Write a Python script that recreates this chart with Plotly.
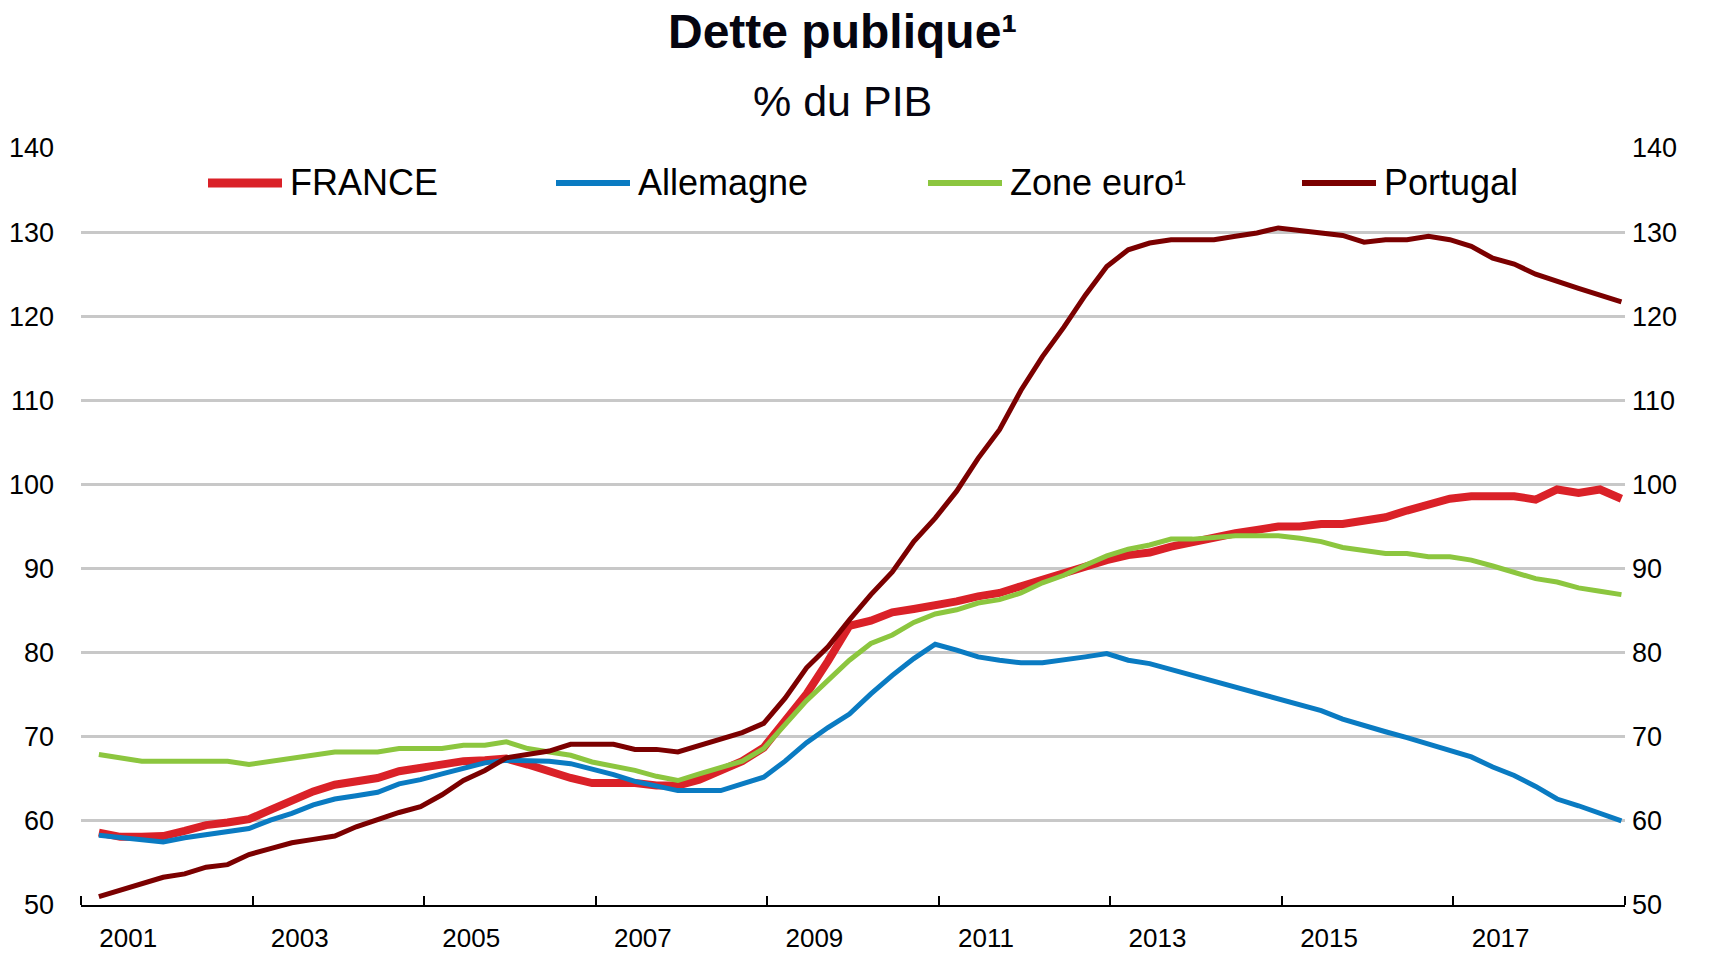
import plotly.graph_objects as go

# quarterly data, 2001T1 - 2018T4, % of GDP
quarters = [f"{y}T{q}" for y in range(2001, 2019) for q in range(1, 5)]

france = [58.6, 58.1, 58.1, 58.2, 58.8, 59.5, 59.8, 60.2, 61.3, 62.4, 63.5, 64.3,
          64.7, 65.1, 65.9, 66.3, 66.7, 67.1, 67.2, 67.4, 66.7, 65.8, 65.1, 64.5,
          64.5, 64.5, 64.2, 64.2, 64.9, 66.0, 67.1, 68.7, 71.9, 75.1, 79.0, 83.2,
          83.8, 84.8, 85.2, 85.6, 86.1, 86.7, 87.1, 87.9, 88.7, 89.4, 90.2, 91.0,
          91.6, 91.9, 92.6, 93.2, 93.7, 94.2, 94.6, 95.0, 95.0, 95.3, 95.3, 95.6,
          96.1, 96.9, 97.6, 98.3, 98.6, 98.6, 98.6, 98.2, 99.4, 99.0, 99.4, 98.3]

allemagne = [58.3, 58.0, 57.8, 57.5, 58.0, 58.4, 58.8, 59.1, 60.1, 60.9, 61.9, 62.6,
             63.0, 63.4, 64.4, 64.9, 65.6, 66.3, 66.9, 67.2, 67.2, 67.1, 66.8, 66.2,
             65.5, 64.7, 64.1, 63.6, 63.6, 63.6, 64.4, 65.2, 67.1, 69.3, 71.1, 72.7,
             75.1, 77.3, 79.3, 81.0, 80.3, 79.5, 79.1, 78.8, 78.8, 79.1, 79.5, 79.9,
             79.1, 78.7, 78.0, 77.3, 76.7, 76.0, 75.2, 74.5, 73.8, 73.1, 72.1, 71.3,
             70.6, 69.9, 69.1, 68.4, 67.6, 66.4, 65.4, 64.1, 62.6, 61.8, 60.9, 60.0]

zone_euro = [67.9, 67.5, 67.1, 67.1, 67.1, 67.1, 67.1, 66.7, 67.1, 67.5, 67.9, 68.2,
             68.2, 68.2, 68.6, 68.6, 68.6, 69.0, 69.0, 69.4, 68.6, 68.2, 67.8, 67.0,
             66.5, 66.0, 65.3, 64.8, 65.6, 66.3, 67.1, 68.6, 71.5, 74.3, 76.7, 79.1,
             81.1, 82.1, 83.6, 84.6, 85.1, 85.9, 86.3, 87.1, 88.3, 89.2, 90.4, 91.5,
             92.3, 92.8, 93.5, 93.5, 93.7, 93.9, 93.9, 93.9, 93.6, 93.2, 92.5, 92.1,
             91.8, 91.8, 91.4, 91.4, 91.0, 90.3, 89.6, 88.8, 88.4, 87.7, 87.3, 86.9]

portugal = [51.0, 51.8, 52.6, 53.3, 53.7, 54.5, 54.8, 56.0, 56.7, 57.4, 57.8, 58.2,
            59.3, 60.2, 61.0, 61.7, 63.1, 64.8, 66.0, 67.5, 67.9, 68.3, 69.1, 69.1,
            69.1, 68.5, 68.5, 68.2, 69.0, 69.8, 70.5, 71.6, 74.6, 78.2, 80.7, 83.9,
            86.9, 89.6, 93.2, 96.0, 99.2, 103.1, 106.5, 111.2, 115.2, 118.7, 122.5, 125.9,
            127.9, 128.7, 129.1, 129.1, 129.1, 129.5, 129.9, 130.5, 130.2, 129.9, 129.6, 128.8,
            129.1, 129.1, 129.5, 129.1, 128.3, 126.9, 126.2, 125.0, 124.1, 123.3, 122.5, 121.7]

names = ["FRANCE", "Allemagne", "Zone euro¹", "Portugal"]
colors = ["#DA2128", "#0A7BC2", "#8CC63F", "#7B0000"]
widths = [8, 5, 5, 5]

year_labels = [str(y) for y in range(2001, 2019, 2)]

# quarter -> position on a year scale (points sit in the last month of the quarter)
x = [int(s[:4]) + (3 * int(s[-1]) - 0.5) / 12 for s in quarters]

sans = "Liberation Sans, Arial, sans-serif"
L, R, T, B = 81, 1625, 148, 905

fig = go.Figure()
for name, vals, col, w in zip(names, [france, allemagne, zone_euro, portugal], colors, widths):
    fig.add_trace(go.Scatter(x=x, y=vals, mode="lines", name=name,
                             line=dict(color=col, width=w), showlegend=False))
# invisible trace so the right axis gets drawn
fig.add_trace(go.Scatter(x=x, y=france, yaxis="y2", mode="lines", opacity=0,
                         showlegend=False, hoverinfo="skip"))

# legend drawn by hand, line samples are longer than plotly's
leg_line_x = [208, 556, 928, 1302]
leg_y = (B - 183) / (B - T)
for i, name in enumerate(names):
    x0 = (leg_line_x[i] - L) / (R - L)
    x1 = (leg_line_x[i] + 74 - L) / (R - L)
    fig.add_shape(type="line", xref="paper", yref="paper", x0=x0, x1=x1,
                  y0=leg_y, y1=leg_y, line=dict(color=colors[i], width=widths[i] + 1))
    fig.add_annotation(xref="paper", yref="paper", x=(leg_line_x[i] + 80 - L) / (R - L),
                       y=leg_y, text=name, showarrow=False, xanchor="left", yanchor="middle",
                       font=dict(family=sans, size=36, color="black"))

fig.add_annotation(xref="paper", yref="paper", x=(842 - L) / (R - L), y=(B - 31) / (B - T),
                   text="<b>Dette publique¹</b>", showarrow=False, yanchor="middle",
                   font=dict(family=sans, size=48, color="#050510"))
fig.add_annotation(xref="paper", yref="paper", x=(842 - L) / (R - L), y=(B - 101) / (B - T),
                   text="% du PIB", showarrow=False, yanchor="middle",
                   font=dict(family=sans, size=43, color="#050510"))

fig.update_layout(
    width=1715, height=953,
    margin=dict(l=L, r=1715 - R, t=T, b=953 - B),
    plot_bgcolor="white", paper_bgcolor="white",
    xaxis=dict(range=[2001, 2019], tickmode="array", automargin=False,
               tickvals=[y + 0.55 for y in range(2001, 2019, 2)], ticktext=year_labels,
               ticks="", showgrid=False, showline=True, linecolor="black", linewidth=2,
               tickfont=dict(family=sans, size=26, color="black"), ticklabelstandoff=9,
               minor=dict(tickmode="array", tickvals=list(range(2001, 2020, 2)),
                          ticks="inside", ticklen=9, tickwidth=2, tickcolor="black",
                          showgrid=False),
               zeroline=False),
    yaxis=dict(range=[50, 140], dtick=10, showgrid=True, gridcolor="#C8C8C8", gridwidth=2.5,
               zeroline=False, ticks="", ticklabelstandoff=26, automargin=False,
               tickfont=dict(family=sans, size=27, color="black")),
    yaxis2=dict(range=[50, 140], dtick=10, overlaying="y", side="right", showgrid=False,
                zeroline=False, ticks="", ticklabelstandoff=6, automargin=False,
                tickfont=dict(family=sans, size=27, color="black")),
)

# page body has a default 8px margin; drop it so the figure fills the window
fig.write_html("out.html", config={"displayModeBar": False},
               post_script="document.body.style.margin='0';document.body.style.overflow='hidden';")
